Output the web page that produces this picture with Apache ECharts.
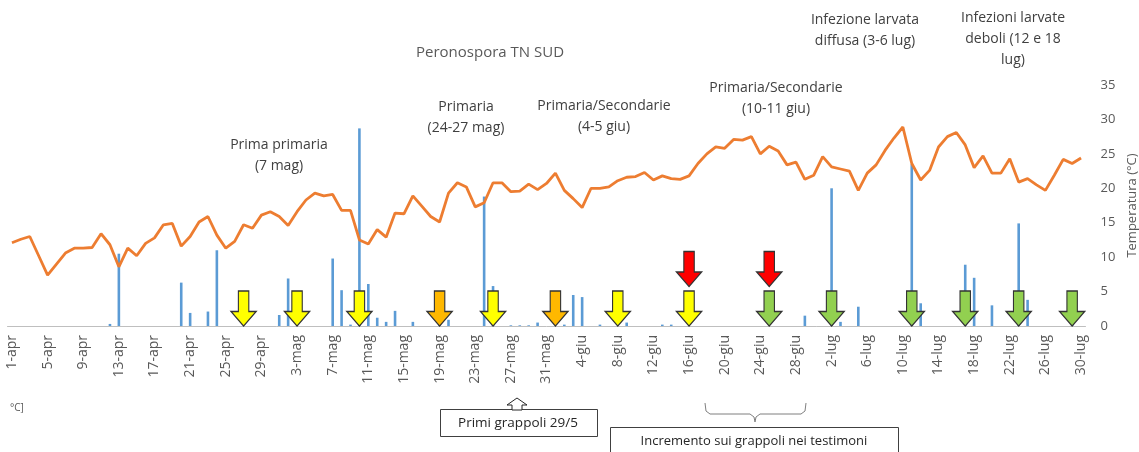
<!DOCTYPE html>
<html>
<head>
<meta charset="utf-8">
<script src="https://cdn.jsdelivr.net/npm/echarts@6/dist/echarts.min.js"></script>
<style>
  html, body { margin: 0; padding: 0; background: #fff; }
  #chart_1 { width: 1139px; height: 452px; }
</style>
</head>
<body>
<div id="chart_1"></div>
<script>
// giorni 1-apr .. 30-lug
var mesi = [['apr', 30], ['mag', 31], ['giu', 30], ['lug', 30]];
var giorni = [];
for (var m = 0; m < mesi.length; m++) {
	for (var g = 1; g <= mesi[m][1]; g++) {
		giorni.push(g + '-' + mesi[m][0]);
	}
}

// pioggia giornaliera
var pioggia = [
	0, 0, 0, 0, 0, 0, 0, 0, 0, 0,
	0, 0.3, 10.5, 0, 0, 0, 0, 0, 0, 6.3,
	1.9, 0, 2.1, 11.0, 0, 0, 0, 0, 0, 0,
	1.6, 6.9, 0, 0, 0, 0, 9.8, 5.2, 0.2, 28.7,
	6.1, 1.2, 0.6, 2.2, 0, 0.6, 0, 0, 1.2, 0.9,
	0, 0, 0, 18.8, 5.8, 0, 0.1, 0.1, 0.1, 0.5,
	0, 0, 0.2, 4.5, 4.2, 0, 0.2, 0, 0, 0.5,
	0, 0, 0, 0.2, 0.2, 0, 0, 0, 0, 0,
	0, 0, 0, 0, 0, 0, 0, 0, 0, 1.5,
	0, 0, 20.0, 0.6, 0, 2.8, 0, 0, 0, 0,
	0, 23.5, 3.3, 0, 0, 0, 0, 8.9, 7.0, 0,
	3.0, 0, 0, 14.9, 3.8, 0, 0, 0, 0, 0.3,
	0
];

// temperatura media giornaliera
var temperatura = [
	12.1, 12.6, 13.0, 10.2, 7.4, 9.0, 10.6, 11.3, 11.3, 11.4,
	13.4, 11.8, 8.6, 11.3, 10.2, 12.0, 12.8, 14.7, 14.9, 11.6,
	13.0, 15.1, 15.9, 13.2, 11.3, 12.3, 14.7, 14.2, 16.1, 16.6,
	15.9, 14.6, 16.6, 18.3, 19.3, 18.9, 19.1, 16.8, 16.8, 12.5,
	11.9, 14.0, 12.9, 16.4, 16.3, 18.9, 17.4, 15.9, 15.1, 19.3,
	20.8, 20.2, 17.3, 17.9, 20.8, 20.8, 19.5, 19.6, 20.6, 19.8,
	20.7, 22.2, 19.7, 18.5, 17.2, 20.0, 20.0, 20.2, 21.1, 21.6,
	21.7, 22.3, 21.2, 21.8, 21.4, 21.3, 21.8, 23.6, 25.0, 26.0,
	25.8, 27.1, 27.0, 27.5, 25.0, 26.1, 25.4, 23.4, 23.8, 21.3,
	21.9, 24.6, 23.1, 22.8, 22.5, 19.7, 22.2, 23.4, 25.5, 27.3,
	28.9, 23.6, 21.2, 22.6, 26.0, 27.5, 28.1, 26.3, 23.0, 24.7,
	22.2, 22.2, 24.3, 20.9, 21.4, 20.5, 19.7, 21.9, 24.2, 23.6,
	24.4
];

// trattamenti (indice del giorno)
var frecceGialle = [26, 32, 39, 54, 68, 76];
var frecceArancio = [48, 61];
var frecceRosse = [76, 85];
var frecceVerdi = [85, 92, 101, 107, 113, 119];

var assiY = [0, 35, 5];

var font = "'Open Sans'";
var freccia = 'path://M7 0L17 0L17 20L24 20L12 34L0 20L7 20Z';

function serieFrecce(giorniFreccia, colore, offset) {
	return {
		type: 'scatter',
		data: giorniFreccia.map(function(d) { return [d, 0]; }),
		symbol: freccia,
		symbolSize: [25, 35],
		symbolOffset: [0, offset],
		symbolKeepAspect: false,
		clip: false,
		z: 10,
		itemStyle: { color: colore, borderColor: '#333333', borderWidth: 1.3, opacity: 1 },
		emphasis: { disabled: true },
		silent: true
	};
}

function testo(x, y, righe, size, colore) {
	return {
		type: 'text',
		x: x, y: y,
		style: {
			text: righe.join('\n'),
			font: size + 'px ' + font,
			fill: colore || '#404040',
			textAlign: 'center',
			textVerticalAlign: 'top',
			lineHeight: 21
		},
		z: 20
	};
}

var option = {
	animation: false,
	grid: { left: 7.5, right: 53.5, top: 85, bottom: 126, containLabel: false, outerBoundsMode: 'none' },
	xAxis: {
		type: 'category',
		data: giorni,
		boundaryGap: true,
		axisLine: { lineStyle: { color: '#BFBFBF', width: 1 } },
		axisTick: { interval: 3, alignWithLabel: true, length: 5, lineStyle: { color: '#BFBFBF' } },
		axisLabel: { interval: 3, rotate: 90, fontSize: 14, color: '#595959', fontFamily: 'Open Sans', margin: 9 }
	},
	yAxis: {
		type: 'value',
		position: 'right',
		min: assiY[0], max: assiY[1], interval: assiY[2],
		splitLine: { show: false },
		axisLine: { show: false },
		axisTick: { show: false },
		axisLabel: { fontSize: 13, color: '#595959', fontFamily: 'Open Sans', margin: 15 },
		name: 'Temperatura (°C)',
		nameLocation: 'middle',
		nameRotate: 90,
		nameGap: 39,
		nameTextStyle: { fontSize: 13, color: '#595959', fontFamily: 'Open Sans' }
	},
	series: [
		{
			type: 'bar',
			data: pioggia,
			barWidth: 2.6,
			itemStyle: { color: '#5B9BD5' },
			silent: true,
			z: 2
		},
		{
			type: 'line',
			data: temperatura,
			showSymbol: false,
			symbol: 'none',
			lineStyle: { color: '#ED7D31', width: 2.8 },
			silent: true,
			z: 3
		},
		serieFrecce(frecceGialle, '#FFFF00', -17.5),
		serieFrecce(frecceArancio, '#FFB800', -17.5),
		serieFrecce(frecceRosse, '#FF0000', -57),
		serieFrecce(frecceVerdi, '#92D050', -17.5)
	],
	graphic: [
		testo(490, 42, ['Peronospora TN SUD'], 15, '#595959'),
		testo(279, 135, ['Prima primaria', '(7 mag)'], 14),
		testo(466, 97, ['Primaria', '(24-27 mag)'], 14),
		testo(604, 96, ['Primaria/Secondarie', '(4-5 giu)'], 14),
		testo(776, 78, ['Primaria/Secondarie', '(10-11 giu)'], 14),
		testo(865, 10, ['Infezione larvata', 'diffusa (3-6 lug)'], 14),
		testo(1013, 8, ['Infezioni larvate', 'deboli (12 e 18', 'lug)'], 14),
		{
			type: 'text', x: 10, y: 403,
			style: { text: '°C]', font: '10px ' + font, fill: '#595959' }
		},
		{
			type: 'rect',
			shape: { x: 440.5, y: 409.5, width: 157, height: 27 },
			style: { fill: '#fff', stroke: '#404040', lineWidth: 1 }
		},
		testo(518, 413, ['Primi grappoli 29/5'], 13.5, '#262626'),
		{
			type: 'polygon',
			shape: { points: [[517, 398], [527, 405], [522, 405], [522, 410], [512, 410], [512, 405], [507, 405]] },
			style: { fill: '#fff', stroke: '#262626', lineWidth: 1 }
		},
		{
			type: 'polyline',
			shape: { points: [[705, 403], [706, 411], [710, 414], [750, 414], [754, 417], [755, 422], [756, 417], [760, 414], [801, 414], [805, 411], [806, 403]] },
			style: { fill: null, stroke: '#7F7F7F', lineWidth: 1 }
		},
		{
			type: 'rect',
			shape: { x: 610.5, y: 427.5, width: 288, height: 32 },
			style: { fill: '#fff', stroke: '#404040', lineWidth: 1 }
		},
		testo(754, 431, ['Incremento sui grappoli nei testimoni'], 13, '#262626')
	]
};

var myChart = echarts.init(document.getElementById('chart_1'));
myChart.setOption(option);
</script>
</body>
</html>
